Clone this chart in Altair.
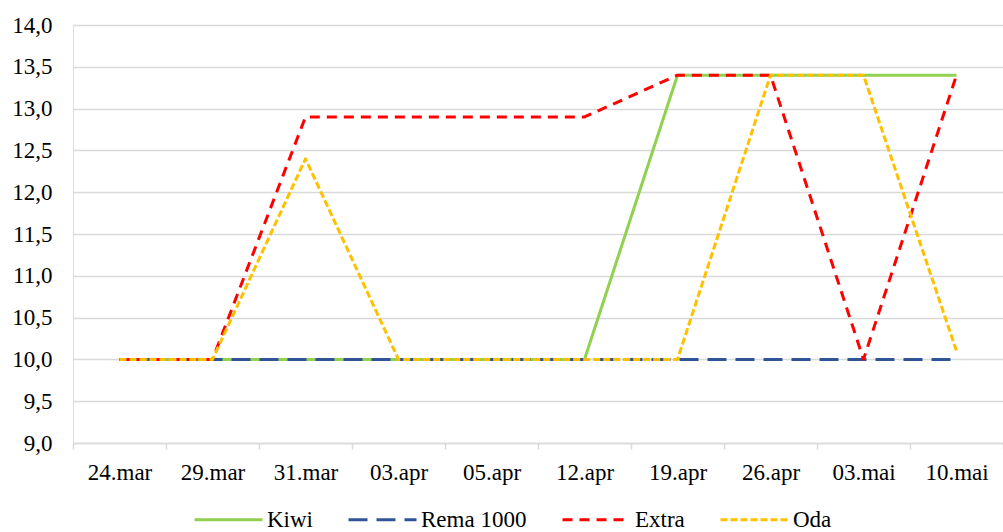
import altair as alt
import pandas as pd

dates = ["24.mar", "29.mar", "31.mar", "03.apr", "05.apr", "12.apr", "19.apr", "26.apr", "03.mai", "10.mai"]
series_names = ["Kiwi", "Rema 1000", "Extra", "Oda"]
kiwi = [10.0, 10.0, 10.0, 10.0, 10.0, 10.0, 13.4, 13.4, 13.4, 13.4]
rema = [10.0, 10.0, 10.0, 10.0, 10.0, 10.0, 10.0, 10.0, 10.0, 10.0]
extra = [10.0, 10.0, 12.9, 12.9, 12.9, 12.9, 13.4, 13.4, 10.0, 13.4]
oda = [10.0, 10.0, 12.4, 10.0, 10.0, 10.0, 10.0, 13.4, 13.4, 10.1]

colors = ["#92D050", "#2F5597", "#FF0000", "#FFC000"]
dashes = [[1, 0], [19, 9], [10, 7], [7, 3]]

rows = []
for name, vals in zip(series_names, [kiwi, rema, extra, oda]):
    for d, v in zip(dates, vals):
        rows.append({"date": d, "value": v, "series": name})
df = pd.DataFrame(rows)

FONT = "Liberation Serif"

base = alt.Chart(df).mark_line(strokeWidth=3, strokeCap="butt", strokeJoin="round").encode(
    x=alt.X("date:N", sort=dates, title=None,
            scale=alt.Scale(paddingInner=0, paddingOuter=0),
            axis=alt.Axis(labelAngle=0, grid=False, domainColor="#d9d9d9", domainWidth=1.5,
                          tickColor="#d9d9d9", tickWidth=1.5, tickSize=6, tickBand="extent",
                          labelPadding=12, labelFontSize=23, labelFont=FONT, labelColor="#000000")),
    y=alt.Y("value:Q", title=None,
            scale=alt.Scale(domain=[9, 14], nice=False, zero=False),
            axis=alt.Axis(values=[9, 9.5, 10, 10.5, 11, 11.5, 12, 12.5, 13, 13.5, 14],
                          format=".1f", formatType="number", domain=False, ticks=False,
                          gridColor="#d9d9d9", gridWidth=1.5, labelPadding=21,
                          labelFontSize=23, labelFont=FONT, labelColor="#000000")),
    color=alt.Color("series:N", scale=alt.Scale(domain=series_names, range=colors),
                    legend=alt.Legend(title=None, orient="none", direction="horizontal",
                                      legendX=120, legendY=459, symbolType="stroke",
                                      symbolSize=4624, symbolStrokeWidth=3, labelOffset=3,
                                      columnPadding=29, labelFontSize=23, labelFont=FONT,
                                      labelColor="#000000", columns=4)),
    strokeDash=alt.StrokeDash("series:N", scale=alt.Scale(domain=series_names, range=dashes),
                              legend=None),
)

layers = [base.transform_filter(alt.datum.series == s) for s in series_names]

chart = alt.layer(*layers).properties(
    width=930, height=418,
    autosize=alt.AutoSizeParams(type="none"),
    padding={"left": 73, "top": 25, "right": 0, "bottom": 89},
).configure_view(stroke=None).configure(
    locale={"number": {"decimal": ",", "thousands": " ", "grouping": [3], "currency": ["", " kr"]}}
)

chart.save("out.html", embed_options={"renderer": "svg", "actions": False})
